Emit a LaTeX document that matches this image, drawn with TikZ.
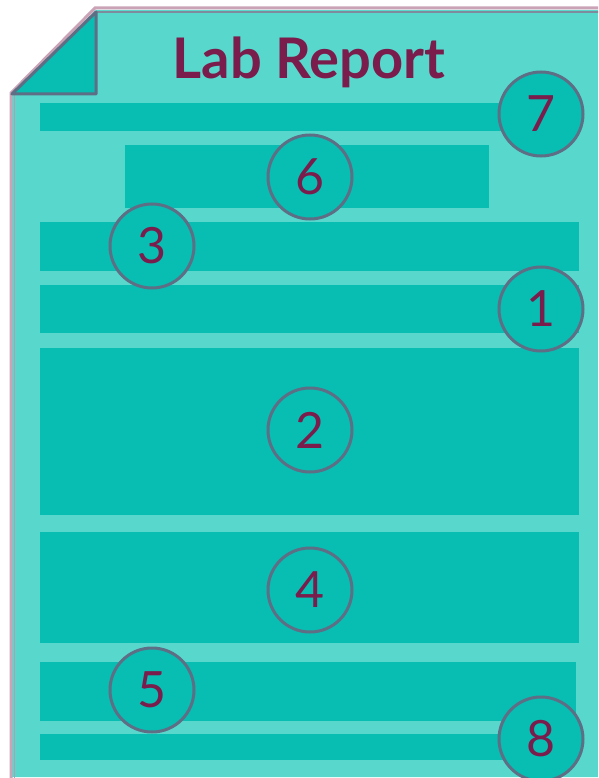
\documentclass[tikz,border=0pt]{standalone}
\usepackage{fontspec}
\setmainfont{Lato}
\definecolor{pagefill}{HTML}{58D8CD}
\definecolor{barfill}{HTML}{08BDB2}
\definecolor{ringcol}{HTML}{5E6E84}
\definecolor{inkcol}{HTML}{7A1D4C}
\definecolor{edgepink}{HTML}{CBA3B6}
\tikzset{
  bar/.style={fill=barfill},
  num/.style={circle,draw=ringcol,line width=3pt,fill=barfill,minimum size=84pt,
    inner sep=0pt,text=inkcol,font=\fontsize{50}{50}\selectfont}
}
\begin{document}
\begin{tikzpicture}[x=1pt,y=-1pt]
  \useasboundingbox (0,0) rectangle (598,778);
  \clip (0,0) rectangle (598,778);
  % sheet with folded corner
  \fill[pagefill] (96,10) -- (610,10) -- (610,777) -- (11,777) -- (11,94) -- cycle;
  \draw[edgepink,line width=3pt] (11,790) -- (11,93) -- (95,8) -- (610,8);
  \draw[ringcol!80,line width=2pt] (96,12.5) -- (610,12.5);
  \draw[ringcol!60,line width=1pt] (14,94) -- (14,790);
  \filldraw[fill=barfill,draw=ringcol,line width=3pt,line join=round] (96,12) -- (96,94) -- (12,94) -- cycle;
  % title
  \node[text=inkcol,font=\bfseries\fontsize{56}{56}\selectfont] (title) at (309,62) {Lab Report};
  % sections
  \fill[bar] (40,103) rectangle (540,131);
  \fill[bar] (125,145) rectangle (489,208);
  \fill[bar] (40,222) rectangle (579,271);
  \fill[bar] (40,285) rectangle (579,333);
  \fill[bar] (40,348) rectangle (579,515);
  \fill[bar] (40,532) rectangle (579,643);
  \fill[bar] (40,662) rectangle (576,721);
  \fill[bar] (40,734) rectangle (579,760);
  % numbers
  \node[num] (n7) at (541,114) {7};
  \node[num] (n6) at (310,177) {6};
  \node[num] (n3) at (152,246) {3};
  \node[num] (n1) at (541,309) {1};
  \node[num] (n2) at (310,430) {2};
  \node[num] (n4) at (310,590) {4};
  \node[num] (n5) at (152,690) {5};
  \node[num] (n8) at (541,739) {8};
\end{tikzpicture}
\end{document}
